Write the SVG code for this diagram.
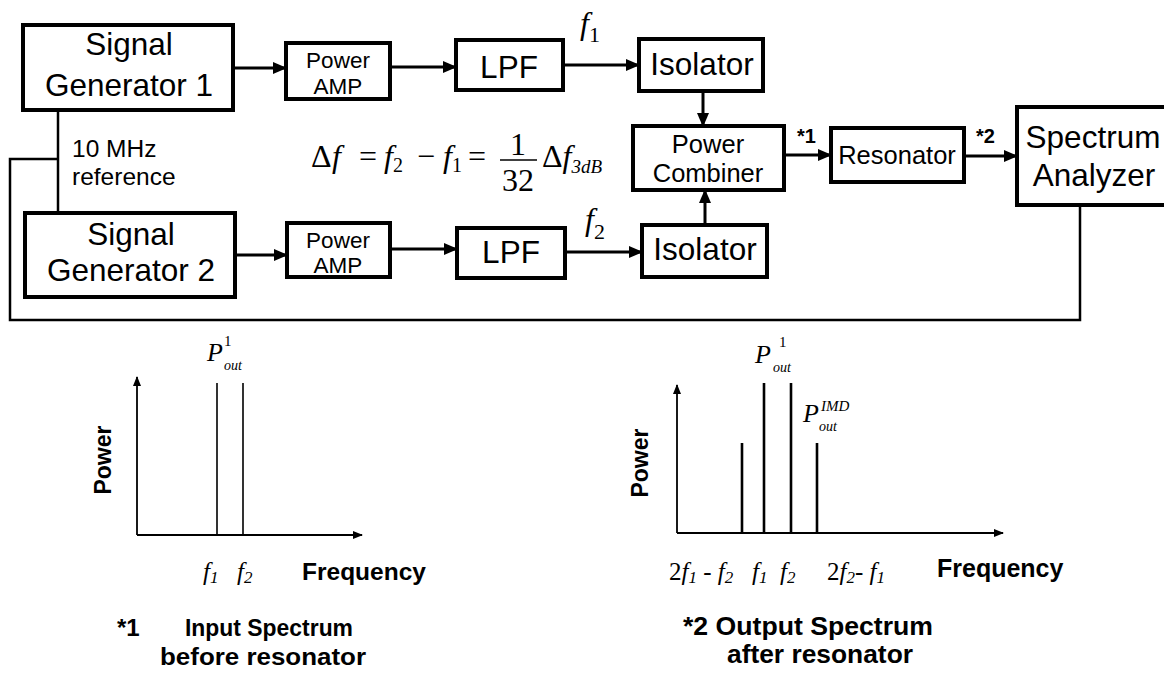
<svg xmlns="http://www.w3.org/2000/svg" width="1164" height="680" viewBox="0 0 1164 680">
<style>
.box{fill:#fff;stroke:#000;stroke-width:4}
.lbl{font-family:"Liberation Sans",Arial,sans-serif;fill:#000;text-anchor:middle}
.big{font-size:31.5px}
.mid{font-size:25.5px}
.sm{font-size:22.5px}
.bold{font-family:"Liberation Sans",Arial,sans-serif;font-weight:bold;fill:#000}
.math{font-family:"Liberation Serif","Times New Roman",serif;fill:#000}
.it{font-style:italic}
.conn{fill:none;stroke:#000;stroke-width:3}
.ref{fill:none;stroke:#000;stroke-width:2.5}
.axis{fill:none;stroke:#000;stroke-width:1.8}
.tone{fill:none;stroke:#000;stroke-width:1.6}
.tone2{fill:none;stroke:#000;stroke-width:2.6}
</style>
<defs>
<marker id="ah" markerUnits="userSpaceOnUse" markerWidth="14" markerHeight="12" refX="13" refY="6" orient="auto">
<path d="M0,0 L14,6 L0,12 Z" fill="#000"/>
</marker>
<marker id="sa" markerUnits="userSpaceOnUse" markerWidth="10" markerHeight="8" refX="9" refY="4" orient="auto">
<path d="M0,0 L10,4 L0,8 Z" fill="#000"/>
</marker>
</defs>
<rect width="1164" height="680" fill="#fff"/>

<g id="connectors">
<path class="conn" d="M233,68 H286" marker-end="url(#ah)"/>
<path class="conn" d="M390,67 H456" marker-end="url(#ah)"/>
<path class="conn" d="M563,65 H639" marker-end="url(#ah)"/>
<path class="conn" d="M703,91 V126" marker-end="url(#ah)"/>
<path class="conn" d="M235,255 H287" marker-end="url(#ah)"/>
<path class="conn" d="M390,249 H457" marker-end="url(#ah)"/>
<path class="conn" d="M565,252 H642" marker-end="url(#ah)"/>
<path class="conn" d="M705,225 V190" marker-end="url(#ah)"/>
<path class="conn" d="M784,155 H831" marker-end="url(#ah)"/>
<path class="conn" d="M964,156 H1017" marker-end="url(#ah)"/>
<path class="ref" d="M58,110 V213"/>
<path class="ref" d="M58,159 H10 V320 H1080 V205"/>
</g>

<g id="sg1">
<rect class="box" x="23" y="25" width="210" height="85"/>
<text class="lbl big" x="129" y="55">Signal</text>
<text class="lbl big" x="129" y="96">Generator 1</text>
</g>
<g id="sg2">
<rect class="box" x="25" y="213" width="210" height="84"/>
<text class="lbl big" x="131" y="245">Signal</text>
<text class="lbl big" x="131" y="281">Generator 2</text>
</g>
<g id="pa1">
<rect class="box" x="286" y="43" width="104" height="56"/>
<text class="lbl sm" x="338" y="68">Power</text>
<text class="lbl sm" x="338" y="94">AMP</text>
</g>
<g id="pa2">
<rect class="box" x="287" y="223" width="103" height="54"/>
<text class="lbl sm" x="338" y="248">Power</text>
<text class="lbl sm" x="338" y="273">AMP</text>
</g>
<g id="lpf1">
<rect class="box" x="456" y="40" width="107" height="50"/>
<text class="lbl big" x="509" y="78">LPF</text>
</g>
<g id="lpf2">
<rect class="box" x="457" y="228" width="108" height="50"/>
<text class="lbl big" x="511" y="263">LPF</text>
</g>
<g id="iso1">
<rect class="box" x="639" y="39" width="124" height="52"/>
<text class="lbl big" x="702" y="75">Isolator</text>
</g>
<g id="iso2">
<rect class="box" x="642" y="225" width="125" height="52"/>
<text class="lbl big" x="705" y="260">Isolator</text>
</g>
<g id="pc">
<rect class="box" x="633" y="126" width="151" height="64"/>
<text class="lbl mid" x="708" y="153">Power</text>
<text class="lbl mid" x="708" y="182">Combiner</text>
</g>
<g id="res">
<rect class="box" x="831" y="128" width="133" height="54"/>
<text class="lbl mid" x="897" y="164">Resonator</text>
</g>
<g id="sa">
<rect class="box" x="1017" y="107" width="160" height="98"/>
<text class="lbl big" x="1093" y="148">Spectrum</text>
<text class="lbl big" x="1094" y="186">Analyzer</text>
</g>

<g id="labels">
<text class="lbl" style="font-size:24.5px;text-anchor:start" x="72" y="157">10 MHz</text>
<text class="lbl" style="font-size:24.5px;text-anchor:start" x="72" y="185">reference</text>
<text class="bold" style="font-size:20px" x="797" y="143">*1</text>
<text class="bold" style="font-size:20px" x="976" y="143">*2</text>
<text class="math it" style="font-size:32px" x="580" y="34">f<tspan style="font-style:normal;font-size:22px" dy="8">1</tspan></text>
<text class="math it" style="font-size:32px" x="585" y="230">f<tspan style="font-style:normal;font-size:22px" dy="9">2</tspan></text>
</g>

<g id="equation" class="math" style="font-size:32px">
<text x="311" y="167">Δ</text>
<text class="it" x="332" y="167">f</text>
<text x="359" y="167">=</text>
<text class="it" x="384" y="167">f<tspan style="font-style:normal;font-size:20px" dy="5">2</tspan></text>
<text x="417" y="167">−</text>
<text class="it" x="443" y="167">f<tspan style="font-style:normal;font-size:20px" dy="5">1</tspan></text>
<text x="468" y="167">=</text>
<text x="518" y="155" text-anchor="middle">1</text>
<line x1="500" y1="160" x2="537" y2="160" stroke="#000" stroke-width="1.5"/>
<text x="518" y="191" text-anchor="middle">32</text>
<text x="542" y="167">Δ<tspan class="it">f</tspan><tspan class="it" style="font-size:19px" dy="6">3dB</tspan></text>
</g>

<g id="graph1">
<path class="axis" d="M137,535 V377" marker-end="url(#sa)"/>
<path class="axis" d="M137,535 H362" marker-end="url(#sa)"/>
<path class="tone" d="M217,535 V383 M243,535 V383"/>
<text class="math it" style="font-size:26px" x="207" y="361">P</text>
<text class="math" style="font-size:15px" x="224" y="346">1</text>
<text class="math it" style="font-size:14px" x="224" y="370">out</text>
<text class="bold" style="font-size:23px" text-anchor="middle" transform="translate(111,460) rotate(-90)">Power</text>
<text class="math it" style="font-size:25px" x="203" y="580">f<tspan style="font-size:17px" dy="3">1</tspan></text>
<text class="math it" style="font-size:25px" x="237" y="580">f<tspan style="font-size:17px" dy="3">2</tspan></text>
<text class="bold" style="font-size:24.5px" x="302" y="580">Frequency</text>
<text class="bold" style="font-size:24px" x="117" y="636">*1</text>
<text class="bold" style="font-size:24px" x="185" y="636" textLength="168" lengthAdjust="spacingAndGlyphs">Input Spectrum</text>
<text class="bold" style="font-size:24px" x="160" y="665" textLength="206" lengthAdjust="spacingAndGlyphs">before resonator</text>
</g>

<g id="graph2">
<path class="axis" d="M677,533 V385" marker-end="url(#sa)"/>
<path class="axis" d="M677,533 H1003" marker-end="url(#sa)"/>
<path class="tone2" d="M742,533 V443 M764,533 V383 M791,533 V383 M817,533 V443"/>
<text class="math it" style="font-size:26px" x="755" y="363">P</text>
<text class="math" style="font-size:15px" x="779" y="347">1</text>
<text class="math it" style="font-size:14px" x="773" y="372">out</text>
<text class="math it" style="font-size:26px" x="803" y="422">P</text>
<text class="math it" style="font-size:15px" x="821" y="411">IMD</text>
<text class="math it" style="font-size:14px" x="819" y="431">out</text>
<text class="bold" style="font-size:23px" text-anchor="middle" transform="translate(648,463) rotate(-90)">Power</text>
<text class="math it" style="font-size:25px" x="669" y="580"><tspan style="font-style:normal">2</tspan>f<tspan style="font-size:17px" dy="3">1</tspan><tspan dy="-3" style="font-style:normal"> - </tspan>f<tspan style="font-size:17px" dy="3">2</tspan></text>
<text class="math it" style="font-size:25px" x="752" y="580">f<tspan style="font-size:17px" dy="3">1</tspan></text>
<text class="math it" style="font-size:25px" x="780" y="580">f<tspan style="font-size:17px" dy="3">2</tspan></text>
<text class="math it" style="font-size:25px" x="827" y="580"><tspan style="font-style:normal">2</tspan>f<tspan style="font-size:17px" dy="3">2</tspan><tspan dy="-3" style="font-style:normal">- </tspan>f<tspan style="font-size:17px" dy="3">1</tspan></text>
<text class="bold" style="font-size:25px" x="937" y="577">Frequency</text>
<text class="bold" style="font-size:25px" x="683" y="635" textLength="250" lengthAdjust="spacingAndGlyphs">*2 Output Spectrum</text>
<text class="bold" style="font-size:25px" x="727" y="663" textLength="186" lengthAdjust="spacingAndGlyphs">after resonator</text>
</g>
</svg>
